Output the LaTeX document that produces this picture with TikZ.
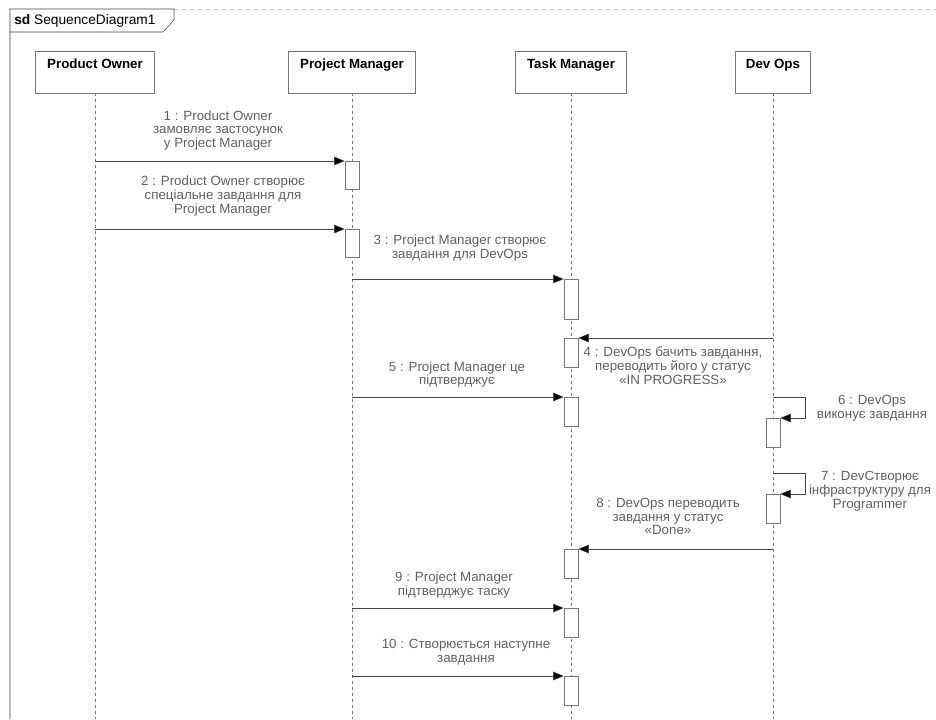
\documentclass[tikz,border=0pt]{standalone}
\usepackage{fontspec}
\setmainfont{Liberation Sans}
\usetikzlibrary{calc,positioning,arrows.meta}
\definecolor{linegray}{HTML}{444444}
\definecolor{boxgray}{HTML}{777777}
\definecolor{textgray}{HTML}{606060}
\tikzset{
  head/.style={draw=boxgray, fill=white, anchor=north, font=\fontsize{10}{12}\selectfont\bfseries,
    minimum height=30.75pt, inner ysep=5.5pt, text height=7.5pt, text depth=12.75pt},
  lifeline/.style={draw=boxgray, dash pattern=on 2.25pt off 2.25pt},
  act/.style={draw=boxgray, fill=white, anchor=north, minimum width=10.5pt, inner sep=0pt},
  msg/.style={draw=linegray, -{Triangle[length=8pt,width=6.5pt,fill=black]}},
  lbl/.style={align=center, text=textgray, font=\fontsize{10}{10.4}\selectfont, inner sep=0pt}
}
\begin{document}
\begin{tikzpicture}[x=0.75pt,y=-0.75pt]
  \useasboundingbox (0,0) rectangle (936,719);

  % Frame with its name tab
  \draw[gray!45, dashed] (174,9) -- (936,9);
  \draw[linegray] (10,719) -- (10,9) -- (174,9) -- (174,20) -- (163,32) -- (10,32);
  \node[anchor=west, font=\fontsize{10.3}{12}\selectfont, inner sep=0pt] (title) at (14,20.5) {\textbf{sd} SequenceDiagram1};

  % Lifelines with their heads
  \foreach \id/\x/\w/\name in {po/95/119/Product Owner, pm/352/127/Project Manager,
                               tm/571/111/Task Manager, dev/773/75/Dev Ops} {
    \node[head, minimum width=\w*0.75pt] (\id) at (\x,51) {\name};
    \draw[lifeline] (\id.south) -- (\x,719);
  }

  % Activation bars
  \foreach \id/\ll/\y/\h in {a1/pm/161/28, a2/pm/229/28, a3/tm/279/40, a4/tm/338/29,
                             a5/tm/397/29, a6/dev/418/29, a7/dev/494/29, a8/tm/549/29,
                             a9/tm/608/29, a10/tm/676/29} {
    \node[act, minimum height=\h*0.75pt] (\id) at (\ll |- 0,\y) {};
  }

  % Messages
  \draw[msg] (po |- a1.north) -- (a1.north west);
  \draw[msg] (po |- a2.north) -- (a2.north west);
  \draw[msg] (pm |- a3.north) -- (a3.north west);
  \draw[msg] (dev |- a4.north) -- (a4.north east);
  \draw[msg] (pm |- a5.north) -- (a5.north west);
  \draw[msg] ($(a6.north)+(0,-21)$) -- ++(32,0) |- (a6.north east); % self call
  \draw[msg] ($(a7.north)+(0,-21)$) -- ++(32,0) |- (a7.north east); % self call
  \draw[msg] (dev |- a8.north) -- (a8.north east);
  \draw[msg] (pm |- a9.north) -- (a9.north west);
  \draw[msg] (pm |- a10.north) -- (a10.north west);

  % Message labels
  \node[lbl] (l1) at (218,130.5) {1 : Product Owner\\замовляє застосунок\\у Project Manager};
  \node[lbl] (l2) at (223,196) {2 : Product Owner створює\\спеціальне завдання для\\Project Manager};
  \node[lbl] (l3) at (460,248) {3 : Project Manager створює\\завдання для DevOps};
  \node[lbl] (l4) at (673,366) {4 : DevOps бачить завдання,\\переводить його у статус\\«IN PROGRESS»};
  \node[lbl] (l5) at (457,374.5) {5 : Project Manager це\\підтверджує};
  \node[lbl] (l6) at (872,408.5) {6 : DevOps\\виконує завдання};
  \node[lbl] (l7) at (870,491) {7 : DevСтворює\\інфраструктуру для\\Programmer};
  \node[lbl] (l8) at (668,516.5) {8 : DevOps переводить\\завдання у статус\\«Done»};
  \node[lbl] (l9) at (454,585) {9 : Project Manager\\підтверджує таску};
  \node[lbl] (l10) at (466,652.5) {10 : Створюється наступне\\завдання};
\end{tikzpicture}
\end{document}
